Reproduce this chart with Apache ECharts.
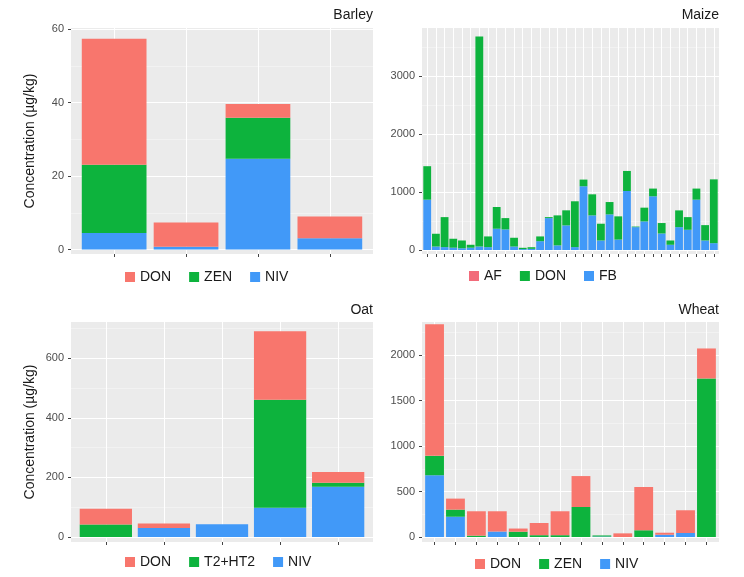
<!DOCTYPE html>
<html>
<head>
<meta charset="utf-8">
<script src="https://cdn.jsdelivr.net/npm/echarts@6/dist/echarts.min.js"></script>
<style>
  html, body { margin: 0; padding: 0; background: #fff; }
  #chart { width: 744px; height: 577px; }
</style>
</head>
<body>
<div id="chart"></div>
<script>
// values (µg/kg), one entry per sample
var barleyDON = [34.3, 6.6, 3.7, 5.9];
var barleyZEN = [18.6, 0, 11.2, 0];
var barleyNIV = [4.5, 0.8, 24.7, 3.1];

var maizeAF = [0, 0, 0, 0, 0, 0, 0, 0, 0, 0, 0, 0, 0, 0, 0, 0, 0, 0, 0, 0, 0, 0, 0, 0, 0, 0, 0, 0, 0, 0, 0, 0, 0, 0];
var maizeDON = [577, 220, 517, 154, 134, 50, 3620, 184, 374, 195, 151, 23, 28, 82, 17, 517, 260, 790, 115, 363, 289, 213, 400, 346, 10, 237, 133, 180, 74, 289, 218, 191, 265, 1100];
var maizeFB = [868, 60, 50, 40, 30, 40, 60, 50, 367, 355, 60, 15, 20, 152, 550, 80, 424, 50, 1099, 597, 164, 614, 180, 1017, 394, 493, 926, 285, 90, 394, 349, 868, 164, 118];

var oatDON = [53, 15, 0, 230, 36];
var oatT2HT2 = [42, 0, 0, 363, 13];
var oatNIV = [0, 30, 43, 98, 169];

var wheatDON = [1446, 121, 268, 223, 35, 134, 263, 340, 0, 40, 476, 22, 250, 330];
var wheatZEN = [213, 78, 15, 0, 58, 20, 20, 330, 12, 0, 74, 0, 0, 1743];
var wheatNIV = [679, 223, 0, 60, 0, 0, 0, 0, 5, 0, 0, 25, 44, 0];

var barleyTicks = [0, 20, 40, 60], barleyMinor = [10, 30, 50];
var maizeTicks = [0, 1000, 2000, 3000], maizeMinor = [500, 1500, 2500, 3500];
var oatTicks = [0, 200, 400, 600], oatMinor = [100, 300, 500, 700];
var wheatTicks = [0, 500, 1000, 1500, 2000], wheatMinor = [250, 750, 1250, 1750, 2250];

var RED = '#F8766D', GREEN = '#0DB33D', BLUE = '#4199F8';
var FONT = 'Liberation Sans';

var option = {
  animation: false,
  textStyle: { fontFamily: FONT },
  title: [], legend: [], grid: [], xAxis: [], yAxis: [], series: []
};

// layers listed bottom -> top, legend listed in ggplot order
function addPanel(p) {
  var g = option.grid.length;
  var n = p.layers[0].data.length;
  var idx = [];
  for (var i = 0; i < n; i++) idx.push(i);

  option.grid.push({
    left: p.left, top: p.top, width: p.width, height: p.height,
    show: true, backgroundColor: '#EBEBEB', borderWidth: 0
  });
  option.title.push({
    text: p.title, right: 744 - (p.left + p.width), top: p.titleTop, padding: 0,
    textStyle: { fontSize: 14, fontWeight: 'normal', color: '#1a1a1a', fontFamily: FONT }
  });
  // sample position axis, padded 0.6 of a step each side like ggplot
  option.xAxis.push({
    type: 'value', gridIndex: g, min: -0.6, max: n - 0.4,
    axisLine: { show: false, onZero: false },
    axisLabel: { show: false },
    axisTick: { show: true, length: 3, customValues: idx, lineStyle: { color: '#444' } },
    splitLine: { show: true, lineStyle: { color: '#fff', width: 1 } }
  });
  var ya = option.yAxis.length;
  option.yAxis.push({
    type: 'value', gridIndex: g, min: p.yMin, max: p.yMax,
    name: p.yName || '', nameLocation: 'middle', nameGap: 34,
    nameTextStyle: { fontSize: 14, color: '#1a1a1a', fontFamily: FONT },
    axisLine: { show: false, onZero: false },
    axisTick: { show: true, length: 3, customValues: p.ticks, lineStyle: { color: '#444' } },
    axisLabel: {
      customValues: p.ticks, margin: 7, fontSize: 11, color: '#4d4d4d',
      fontFamily: FONT,
      formatter: function (v) { return String(v); }
    },
    splitLine: { show: true, lineStyle: { color: '#fff', width: 1.1 } }
  });
  option.yAxis.push({
    type: 'value', gridIndex: g, min: p.yMin, max: p.yMax,
    axisLine: { show: false, onZero: false }, axisLabel: { show: false },
    axisTick: { show: false, customValues: p.minor },
    splitLine: { show: true, lineStyle: { color: '#f7f7f7', width: 0.6 } }
  });
  p.layers.forEach(function (s) {
    option.series.push({
      type: 'bar', name: s.name, xAxisIndex: g, yAxisIndex: ya,
      stack: 'panel' + g, barWidth: '90%',
      itemStyle: { color: s.color },
      // value first so the stack runs along y
      encode: { x: 1, y: 0 },
      data: s.data.map(function (v, k) { return [v, k]; })
    });
  });
  option.legend.push({
    left: p.legendLeft, top: p.legendTop, padding: 0,
    icon: 'rect', itemWidth: 10, itemHeight: 10, itemGap: 18, selectedMode: false,
    textStyle: { fontSize: 14, color: '#1a1a1a', width: 45, fontFamily: FONT },
    data: p.legend.map(function (s) { return { name: s.name, itemStyle: { color: s.color } }; })
  });
}

var barleyLegend = [{ name: 'DON', color: RED }, { name: 'ZEN', color: GREEN }, { name: 'NIV', color: BLUE }];
addPanel({
  title: 'Barley', titleTop: 8, left: 71, top: 28, width: 302, height: 226,
  yMin: -1.2, yMax: 60.3, ticks: barleyTicks, minor: barleyMinor,
  yName: 'Concentration (µg/kg)',
  layers: [
    { name: 'NIV', data: barleyNIV, color: BLUE },
    { name: 'ZEN', data: barleyZEN, color: GREEN },
    { name: 'DON', data: barleyDON, color: RED }
  ],
  legend: barleyLegend, legendLeft: 125, legendTop: 270
});

addPanel({
  title: 'Maize', titleTop: 8, left: 422, top: 28, width: 297, height: 226,
  yMin: -69, yMax: 3828, ticks: maizeTicks, minor: maizeMinor,
  layers: [
    { name: 'FB', data: maizeFB, color: BLUE },
    { name: 'DON', data: maizeDON, color: GREEN },
    { name: 'AF', data: maizeAF, color: RED }
  ],
  legend: [{ name: 'AF', color: '#F26B7A' }, { name: 'DON', color: GREEN }, { name: 'FB', color: BLUE }],
  legendLeft: 469, legendTop: 269
});

addPanel({
  title: 'Oat', titleTop: 303, left: 71, top: 322, width: 302, height: 220,
  yMin: -17, yMax: 722, ticks: oatTicks, minor: oatMinor,
  yName: 'Concentration (µg/kg)',
  layers: [
    { name: 'NIV', data: oatNIV, color: BLUE },
    { name: 'T2+HT2', data: oatT2HT2, color: GREEN },
    { name: 'DON', data: oatDON, color: RED }
  ],
  legend: [{ name: 'DON', color: RED }, { name: 'T2+HT2', color: GREEN }, { name: 'NIV', color: BLUE }],
  legendLeft: 125, legendTop: 555
});

addPanel({
  title: 'Wheat', titleTop: 303, left: 422, top: 322, width: 297, height: 220,
  yMin: -55, yMax: 2364, ticks: wheatTicks, minor: wheatMinor,
  layers: [
    { name: 'NIV', data: wheatNIV, color: BLUE },
    { name: 'ZEN', data: wheatZEN, color: GREEN },
    { name: 'DON', data: wheatDON, color: RED }
  ],
  legend: [{ name: 'DON', color: RED }, { name: 'ZEN', color: GREEN }, { name: 'NIV', color: BLUE }],
  legendLeft: 475, legendTop: 557
});

var chart = echarts.init(document.getElementById('chart'), null, { renderer: 'canvas' });
chart.setOption(option);
</script>
</body>
</html>
